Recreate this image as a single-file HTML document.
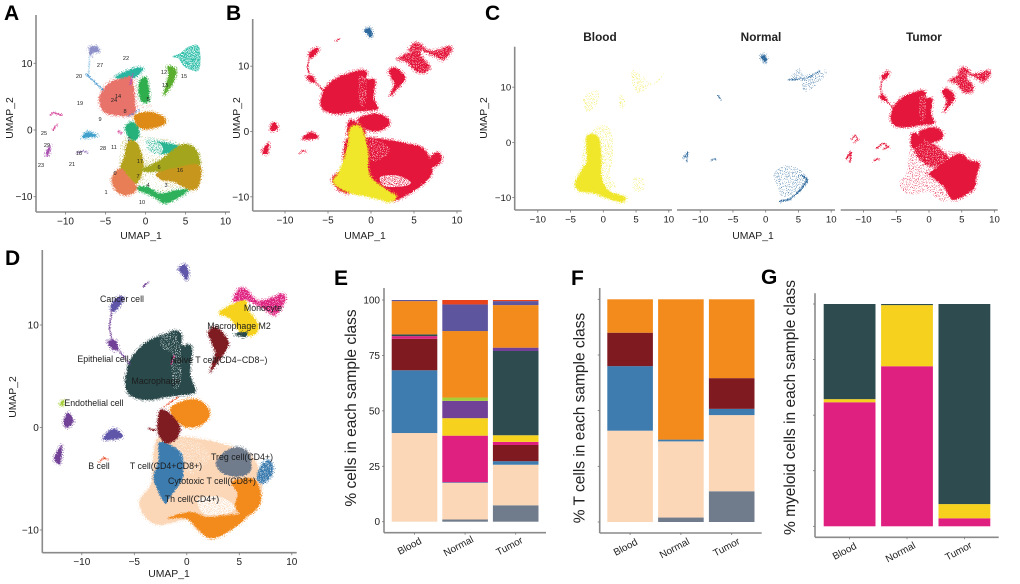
<!DOCTYPE html>
<html lang="en">
<head>
<meta charset="utf-8">
<title>UMAP clusters and cell composition</title>
<style>
html,body{margin:0;padding:0;background:#fff;}
svg{display:block;font-family:"Liberation Sans",Arial,sans-serif;}
.letter{font-size:21px;font-weight:700;fill:#000;}
.num{font-size:5.6px;fill:#222;text-anchor:middle;}
.cell{font-size:8.8px;fill:#1c1c1c;text-anchor:middle;}
</style>
</head>
<body>
<svg id="fig" xmlns="http://www.w3.org/2000/svg" width="1020" height="584" viewBox="0 0 1020 584">
<defs>
<filter id="fuzz" filterUnits="userSpaceOnUse" x="0" y="0" width="1020" height="584">
<feTurbulence type="fractalNoise" baseFrequency="1.1" numOctaves="2" seed="4" result="n"/>
<feDisplacementMap in="SourceGraphic" in2="n" scale="5" xChannelSelector="R" yChannelSelector="G"/>
</filter>
<filter id="dense" filterUnits="userSpaceOnUse" x="0" y="0" width="1020" height="584">
<feTurbulence type="fractalNoise" baseFrequency="1.1" numOctaves="1" seed="7" result="n"/>
<feColorMatrix in="n" type="matrix" values="0 0 0 0 0 0 0 0 0 0 0 0 0 0 0 9 0 0 0 -3.6" result="m"/>
<feComposite in="SourceGraphic" in2="m" operator="in"/>
</filter>
<filter id="sparse" filterUnits="userSpaceOnUse" x="0" y="0" width="1020" height="584">
<feTurbulence type="fractalNoise" baseFrequency="1.3" numOctaves="1" seed="11" result="n"/>
<feColorMatrix in="n" type="matrix" values="0 0 0 0 0 0 0 0 0 0 0 0 0 0 0 12 0 0 0 -7" result="m"/>
<feComposite in="SourceGraphic" in2="m" operator="in"/>
</filter>
</defs>

<g>
<text class="letter" x="4" y="20">A</text>
<text class="letter" x="226" y="20">B</text>
<text class="letter" x="485" y="20">C</text>
<text class="letter" x="5" y="265">D</text>
<text class="letter" x="334" y="285">E</text>
<text class="letter" x="571" y="285">F</text>
<text class="letter" x="761" y="284">G</text>
</g>

<g id="panelA"></g>
<g id="panelB"></g>
<g id="panelC"></g>
<g id="panelD"></g>
<g id="panelE"></g>
<g id="panelF"></g>
<g id="panelG"></g>

<g>
<text class="num" x="126" y="60">22</text>
<text class="num" x="100" y="67">27</text>
<text class="num" x="79" y="78">20</text>
<text class="num" x="80" y="105">19</text>
<text class="num" x="164" y="74">12</text>
<text class="num" x="165" y="87">13</text>
<text class="num" x="184" y="78">15</text>
<text class="num" x="118" y="98">14</text>
<text class="num" x="114" y="102">24</text>
<text class="num" x="125" y="113">8</text>
<text class="num" x="100" y="121">9</text>
<text class="num" x="148" y="101">5</text>
<text class="num" x="44" y="135">25</text>
<text class="num" x="47" y="147">29</text>
<text class="num" x="79" y="155">18</text>
<text class="num" x="103" y="150">28</text>
<text class="num" x="114" y="149">11</text>
<text class="num" x="129" y="141">2</text>
<text class="num" x="140" y="163">17</text>
<text class="num" x="159" y="169">6</text>
<text class="num" x="180" y="172">16</text>
<text class="num" x="115" y="175">0</text>
<text class="num" x="138" y="178">7</text>
<text class="num" x="148" y="187">4</text>
<text class="num" x="166" y="187">3</text>
<text class="num" x="106" y="194">1</text>
<text class="num" x="142" y="204">10</text>
<text class="num" x="41" y="167">23</text>
<text class="num" x="72" y="166">21</text>
</g>

<g>
<text class="cell" x="122" y="302">Cancer cell</text>
<text class="cell" x="263" y="311">Monocyte</text>
<text class="cell" x="239" y="329">Macrophage M2</text>
<text class="cell" x="219" y="363">Naive T cell(CD4−CD8−)</text>
<text class="cell" x="103" y="362">Epithelial cell</text>
<text class="cell" x="156" y="384">Macrophage</text>
<text class="cell" x="94" y="406">Endothelial cell</text>
<text class="cell" x="99" y="469">B cell</text>
<text class="cell" x="166" y="469">T cell(CD4+CD8+)</text>
<text class="cell" x="242" y="460">Treg cell(CD4+)</text>
<text class="cell" x="212" y="484">Cytotoxic T cell(CD8+)</text>
<text class="cell" x="192" y="502">Th cell(CD4+)</text>
</g>
</svg>

<script>
// ---------- stacked bar data (percent per cell type, bottom to top) ----------
const sampleClasses = ['Blood', 'Normal', 'Tumor'];
const cellTypeColors = ['#707C8C', '#FBD7B8', '#3E7BAF', '#7F1A20', '#DF2080', '#F6D21F', '#2E4C4F', '#714097', '#A6CE39', '#F28A1C', '#5E559F', '#E8431B'];
const allBlood = [0, 40, 28.3, 14.2, 1.2, 0, 0.8, 0, 0, 15, 0.5, 0];
const allNormal = [1, 16.5, 0.3, 0, 21, 7.9, 0, 7.8, 1.5, 30, 12, 2];
const allTumor = [7.4, 18.3, 1.6, 7.3, 1.4, 3, 38, 1.5, 0, 19.2, 1.8, 0.5];
const tBlood = [0, 41, 29, 15, 0, 0, 0, 0, 0, 15, 0, 0];
const tNormal = [2, 34.2, 0.8, 0, 0, 0, 0, 0, 0, 63, 0, 0];
const tTumor = [13.8, 34.2, 2.8, 13.8, 0, 0, 0, 0, 0, 35.4, 0, 0];
const myeloidBlood = [0, 0, 0, 0, 55.8, 1.4, 42.8, 0, 0, 0, 0, 0];
const myeloidNormal = [0, 0, 0, 0, 72, 27.5, 0.5, 0, 0, 0, 0, 0];
const myeloidTumor = [0, 0, 0, 0, 3.6, 6.4, 90, 0, 0, 0, 0, 0];
const percentTicks = [0, 25, 50, 75, 100];

// ---------- UMAP tick labels ----------
const umapXTicks = [-10, -5, 0, 5, 10];
const umapYTicks = [-10, 0, 10];

// ---------- UMAP cluster outlines, in UMAP_1 / UMAP_2 units ----------
const macrophageArea = [[-5.56,6.24],[-5.08,7.06],[-3.81,8.36],[-1.59,9.33],[-0.95,9.43],[-0.48,9],[-0.48,8.03],[0.48,7.87],[0.32,5.27],[0.79,3.48],[-0.63,3.15],[-1.9,3],[-3.81,2.67],[-5.4,3.15],[-5.87,4.29],[-5.71,5.43]];
const upperOrange = [[-1.59,1.69],[-0.63,2.5],[0.95,2.73],[2.06,1.85],[2.06,0.88],[0.95,0.07],[-0.48,0.23]];
const midRed = [[-2.8,0.07],[-2.54,1.69],[-1.59,1.37],[-0.63,0.07],[-0.95,-1.07],[-1.9,-1.56],[-2.6,-0.91]];
const peachBody = [[-4.44,-6.93],[-3.4,-5.4],[-2.9,-1.24],[-0.95,-0.91],[1.9,-1.24],[4.44,-1.89],[6.03,-2.54],[6.98,-4.49],[6.98,-6.76],[5.08,-9.04],[2.54,-10.67],[0.95,-10],[0,-9],[-2.54,-9.5],[-3.81,-8.9],[-4.44,-7.8]];
const blueColumn = [[-2.7,-1.56],[-1.9,-1.56],[-0.48,-2.54],[-0.32,-4.49],[-0.63,-5.46],[-1.59,-6.76],[-2.06,-7.41],[-2.86,-5.95],[-3.17,-4.81],[-2.7,-3.19]];
const orangeRight = [[4.29,-5.3],[6.35,-4.98],[7.05,-6.44],[6.83,-7.74],[5.56,-8.72],[4.6,-7.74],[4.83,-6.44]];
const orangeBottom = [[-1.9,-8.88],[0.32,-8.23],[1.9,-8.72],[3.81,-8.55],[5.71,-8.55],[4.44,-9.85],[2.38,-10.83],[1.11,-10],[0,-8.88]];
const tregGrey = [[2.86,-3.19],[3.81,-2.21],[5.08,-1.95],[6.03,-2.7],[6.03,-4.33],[4.76,-4.81],[3.49,-4.49],[2.86,-3.84]];
const blueRight = [[6.98,-3.84],[7.62,-3.19],[8.1,-3.51],[8.19,-4.49],[7.3,-5.46],[6.67,-4.98]];
const centreGap = [[1.11,-6.93],[3.17,-6.76],[4.6,-7.74],[3.81,-8.39],[1.59,-8.39]];
const upperGap = [[-0.95,-1.2],[1.2,-1.5],[2.2,-3],[0.5,-4.6],[-0.4,-3.4]];
const columnGap = [[-1.45,8.2],[-0.6,8],[-0.55,4.5],[-1.3,4]];
const macroWedge = [[2.06,9.33],[2.86,9.75],[3.97,8.2],[2.86,6.24],[2.22,5.43],[2.7,7.22],[2.38,8.2]];
const monocyteArea = [[4.44,12.3],[4.83,13.4],[5.56,13.56],[6.67,12.42],[7.94,12.6],[9.05,13.07],[9.37,12.42],[8.41,10.96],[7.3,11.6],[5.71,12.42]];
const m2Area = [[3.08,11.1],[4.13,11.93],[5.56,12.42],[5.87,11.45],[6.83,9.98],[6.35,9],[5.24,9.17],[4.13,10.63]];
const m2Dark = [[4.6,9.17],[5.7,9.33],[5.56,8.85],[4.76,9]];
const topIsland = [[-0.79,15.5],[-0.16,15.93],[0.16,15.02],[-0.06,14.37],[-0.48,15]];
const cancerHead = [[-7.24,11.93],[-6.5,12.75],[-6.03,12.68],[-6.35,11.93],[-6.98,11.28]];
const epithelialBlob = [[-7.56,8.36],[-6.83,8.52],[-6.51,7.71],[-6.98,7.54]];
const lowerIsland = [[-8,-1.07],[-6.98,-0.1],[-6.1,-0.85],[-6.98,-1.17]];
const leftIslandTop = [[-11.75,0.55],[-11.27,1.43],[-10.79,0.55],[-11.43,0]];
const leftIslandBottom = [[-12.63,-3.02],[-11.9,-1.72],[-12.06,-3.51]];
const endothelialIsland = [[-12.13,2.28],[-11.68,2.73],[-11.75,2.11]];
const epithelialStreak = [[-7.14,11.45],[-7.37,9.82],[-7.14,8.52],[-5.4,6.08]];
const tinyStreak = [[-4.13,13.79],[-3.65,14.2]];
const bCellArc = [[-8.35,-3.35],[-7.87,-2.93],[-7.52,-3.12]];
const strayRed = [[-3.65,-0.1],[-3,-0.26]];
const naiveStreak = [[-1.5,6.2],[-1.2,7]];
const sparkStreak = [[-2.2,2],[-0.8,3]];

// panel A cluster outlines
const aSalmon = [[-5.67,5.25],[-4.6,7],[-2.54,7.9],[-1.7,7.75],[-1.3,4.5],[-1.5,2.25],[-4,2.25],[-5.25,2.75],[-5.75,4]];
const aGreenColumn = [[-0.67,7.5],[0.17,7.75],[0.46,4.5],[-0.46,4.25],[-0.875,6]];
const aTealTop = [[-3.8,7.9],[-1.5,9.25],[-0.33,9.25],[-0.67,8.5],[-1.7,7.75]];
const aOrange = [[-1.3,2.25],[0.58,2.75],[2.25,2],[2.46,1],[1,0.25],[-0.67,0.25],[-1.3,1.25]];
const aMint = [[-2.54,0.5],[-1.7,1.25],[-0.875,0.25],[-0.875,-1.25],[-1.7,-1.5],[-2.4,-0.5]];
const aOliveLeft = [[-2.33,-2],[-1.5,-1.5],[-0.67,-2.75],[-0.25,-5.5],[-1.08,-8],[-2.1,-7],[-3.17,-6],[-2.67,-4]];
const aCoral = [[-4.2,-7.25],[-3.17,-5.75],[-2.1,-7],[-1.08,-8.5],[-1.5,-9.5],[-2.75,-9.75],[-3.75,-9]];
const aTealMid = [[0.17,-1.5],[1.83,-1.75],[4.33,-2.5],[2.67,-3.5],[0.58,-3.25]];
const aOliveGreen = [[-0.67,-6],[1.83,-4.5],[4.33,-2.25],[6,-2.5],[6.7,-4],[6.4,-5.5],[1.83,-6.25]];
const aOchre = [[1.42,-6.5],[3.5,-5.75],[6.7,-5.25],[6.7,-8.25],[5.6,-9],[3.5,-7.75],[1.83,-7.5]];
const aGreenBottom = [[-1.3,-8.75],[0.17,-8.5],[1.83,-9.5],[3.92,-9],[5.4,-9],[4.33,-10],[2.46,-11],[1,-10]];
const aLeafGreen = [[2.67,9.5],[3.7,9.25],[3.83,8.25],[3.3,6.75],[2.25,5.25],[2.87,8.25]];
const aTealRight = [[3.3,11],[4.33,11.5],[5.4,12.5],[6.7,12.5],[6.7,9],[5.2,9.25],[4.5,10],[4.1,10.75]];
const aGap = [[0.37,-6.5],[1.4,-7],[2.67,-8.25],[2.67,-9],[1,-8.75],[-0.25,-7.75]];
const aCancerHead = [[-7.1,12],[-6.9,12.5],[-6.08,12.5],[-5.75,11.75],[-6.5,11.6],[-6.83,11]];
const aCancerTail = [[-7,11],[-7.1,8.4]];
const aBlueStreak = [[-7.4,8.4],[-5.3,6]];
const aLeftPink = [[-11.9,2.25],[-11.5,2.6],[-10.46,2.25]];
const aLeftMagenta = [[-11.6,0],[-11.1,0.75]];
const aLeftPurple = [[-12.46,-3.6],[-11.9,-2.25],[-12.1,-3.75]];
const aLowerBlue = [[-7.96,-1.15],[-7.25,-0.25],[-6,-0.9],[-7.25,-1.15]];
const aStrayPink = [[-3.4,-0.15],[-3,-0.5]];
const aBottomArc = [[-8.6,-3.4],[-7.75,-3.1],[-7.25,-3.4]];
const aPinkStreak = [[-1.6,8.4],[-1.9,6.8]];

// panel B / C class-specific outlines
const bloodMain = [[-4.38,-7.4],[-3.6,-5.87],[-2.75,-2.3],[-2.44,0.5],[-1.28,0.87],[-0.7,-0.77],[-0.31,-3.3],[-0.31,-5.87],[0.27,-7.4],[1.8,-8.9],[3,-9.95],[2.2,-10.8],[1.05,-10.46],[-0.5,-9.95],[-2.44,-9.44],[-4,-8.4]];
const bloodDense = [[-4.34,-7.45],[-3.3,-5],[-2.55,-3.2],[-2.55,1],[-0.77,1],[-0.26,-2.6],[-0.26,-6.2],[0.77,-8.67],[3.3,-9.9],[3,-10.8],[1.5,-10.5],[-1.5,-9.2],[-3.5,-8.9]];
const bloodHalo = [[-3,-1],[-1,2.8],[1,2.5],[1.5,-2],[1,-6],[2,-8],[0,-8],[-3,-6]];
const bloodPatchRight = [[4.6,-6.5],[6,-6.5],[6.2,-8.5],[4.6,-8.8]];
const bloodPatchTop = [[4.4,13],[6,12],[7.8,10.5],[9.4,12.7],[8,11],[5.5,9],[4.6,10]];
const bloodPatchLeaf = [[2.5,8.6],[3.3,7.8],[3.2,6.2],[2.5,6.4]];
const bloodPatchMid = [[-3,8],[-1,9.5],[-0.8,7],[-2.6,5.5]];
const tumorDense = [[-0.1,-5.6],[2.7,-3.2],[4.7,-2],[6.2,-3.2],[7.7,-3.8],[7.2,-6.2],[6.7,-8.6],[3.7,-10.4],[2.2,-8],[-0.36,-5.6]];
const tumorMid = [[-2.2,-1],[0,0],[2,-1.5],[3,-3],[0.5,-4.5],[-1.5,-3]];
const normalArc = [[2.2,-10.67],[3.72,-10.3],[5.25,-8.67],[6.38,-6.85],[5.5,-5.94]];
const normalCloud = [[1.2,-5.6],[3,-4.1],[5.3,-5],[6.6,-6.9],[5.3,-8.7],[2.5,-9.9],[1.9,-8],[1.4,-6.9]];
const normalTop = [[3.47,11.33],[5,13.45],[6,12.24],[8.8,13.15],[9.3,12.55],[8.3,11],[6,9.2],[5.25,11.6],[4.2,11.33]];
const normalStreak = [[-7.3,8.5],[-6.8,7.6]];

// ---------- helpers ----------
const NS = 'http://www.w3.org/2000/svg';
function make(tag, attrs, parent) {
  const e = document.createElementNS(NS, tag);
  for (const k in attrs) e.setAttribute(k, attrs[k]);
  parent.appendChild(e);
  return e;
}
function smoothPath(pts) {
  const n = pts.length;
  const at = i => pts[(i + n) % n];
  let d = 'M' + pts[0][0].toFixed(1) + ' ' + pts[0][1].toFixed(1);
  for (let i = 0; i < n; i++) {
    const p0 = at(i - 1), p1 = at(i), p2 = at(i + 1), p3 = at(i + 2);
    d += 'C' + (p1[0] + (p2[0] - p0[0]) / 6).toFixed(1) + ' ' + (p1[1] + (p2[1] - p0[1]) / 6).toFixed(1) + ' ' +
      (p2[0] - (p3[0] - p1[0]) / 6).toFixed(1) + ' ' + (p2[1] - (p3[1] - p1[1]) / 6).toFixed(1) + ' ' +
      p2[0].toFixed(1) + ' ' + p2[1].toFixed(1);
  }
  return d + 'Z';
}
function tickText(g, x, y, str, anchor, size) {
  const t = make('text', {x: x, y: y, 'text-anchor': anchor, 'font-size': size, fill: '#222'}, g);
  
  
  t.textContent = str;
  return t;
}
function titleText(g, x, y, str, size, rot, weight) {
  const attrs = {x: x, y: y, 'text-anchor': 'middle', 'font-size': size, fill: '#222'};
  if (rot) attrs.transform = 'rotate(' + rot + ' ' + x + ' ' + y + ')';
  if (weight) attrs['font-weight'] = weight;
  const t = make('text', attrs, g);
  
  
  t.textContent = str;
  return t;
}
function axisLine(g, x1, y1, x2, y2) {
  const l = make('line', {x1: x1, y1: y1, x2: x2, y2: y2, stroke: '#8a8a8a', 'stroke-width': 1.6}, g);
  
  
}
function tickMark(g, x1, y1, x2, y2) {
  const l = make('line', {x1: x1, y1: y1, x2: x2, y2: y2, stroke: '#777', 'stroke-width': 0.8}, g);
  
  
}
function formatTick(v) {
  return v < 0 ? '\u2212' + Math.abs(v) : String(v);
}

// a layout maps data to pixels: x(v) and y(v) are the axis functions
function makeScale(x0, kx, y0, ky) {
  return {x: v => x0 + kx * v, y: v => y0 - ky * v};
}
function umapLayer(parent, scale, mode) {
  let halo = null;
  if (mode === 'fuzz') {
    halo = make('g', {filter: 'url(#sparse)'}, parent);
    
    
  }
  const filt = mode === 'dense' ? 'url(#dense)' : mode === 'sparse' ? 'url(#sparse)' : 'url(#fuzz)';
  const g = make('g', {filter: filt}, parent);
  
  
  return {
    area(outline, color) {
      const d = smoothPath(outline.map(q => [scale.x(q[0]), scale.y(q[1])]));
      if (halo) {
        const h = make('path', {d: d, fill: color, stroke: color, 'stroke-width': 4.5, 'stroke-linejoin': 'round'}, halo);
        
        
      }
      const p = make('path', {d: d, fill: color}, g);
      
      
    },
    streak(points, color, width) {
      const d = points.map((q, i) => (i ? 'L' : 'M') + scale.x(q[0]).toFixed(1) + ' ' + scale.y(q[1]).toFixed(1)).join('');
      const p = make('path', {d: d, fill: 'none', stroke: color, 'stroke-width': width, 'stroke-linecap': 'round', 'stroke-linejoin': 'round'}, g);
      
      
    }
  };
}
function umapAxes(g, scale, box, xTitle, yTitle, tickSize) {
  axisLine(g, box.left, box.top, box.left, box.bottom);
  axisLine(g, box.left, box.bottom, box.right, box.bottom);
  umapXTicks.forEach(v => {
    tickMark(g, scale.x(v), box.bottom, scale.x(v), box.bottom + 2.5);
    tickText(g, scale.x(v), box.bottom + 12.5, formatTick(v), 'middle', tickSize);
  });
  if (box.yTicks) {
    umapYTicks.forEach(v => {
      tickMark(g, box.left - 2.5, scale.y(v), box.left, scale.y(v));
      tickText(g, box.left - 3.5, scale.y(v) + 3.5, formatTick(v), 'end', tickSize);
    });
  }
  if (xTitle) titleText(g, xTitle.x, xTitle.y, 'UMAP_1', 10.4);
  if (yTitle) titleText(g, yTitle.x, yTitle.y, 'UMAP_2', 10.4, -90);
}

// ---------- Panel A ----------
(function () {
  const g = document.getElementById('panelA');
  const s = makeScale(145.5, 8, 130, 6.67);
  const under = umapLayer(g, s, 'sparse');
  under.area(macrophageArea, '#E9A39A');
  under.area(peachBody, '#B7B04E');
  const cloud = umapLayer(g, s, 'fuzz');
  cloud.area(aGreenColumn, '#2FAE4E');
  cloud.area(aTealTop, '#2CB5A0');
  cloud.area(aSalmon, '#E8736A');
  cloud.area(aOrange, '#DE8A12');
  cloud.area(aTealMid, '#2CB592');
  cloud.area(aOliveLeft, '#B5A21F');
  cloud.area(aMint, '#27B07A');
  cloud.area(aOliveGreen, '#A3A51C');
  cloud.area(aOchre, '#C7961A');
  cloud.area(aGreenBottom, '#2FB15A');
  cloud.area(aCoral, '#E77E56');
  cloud.area(aLeafGreen, '#5AAE2E');
  cloud.area(aCancerHead, '#8C8FC8');
  cloud.area(aLowerBlue, '#3FA0CC');
  cloud.area(aLeftPurple, '#A84FB0');
  const right = umapLayer(g, s, 'dense');
  right.area(aTealRight, '#2EBFAA');
  const thin = umapLayer(g, s, 'fuzz');
  thin.streak(aCancerTail, '#8FC4E4', 1);
  thin.streak(aBlueStreak, '#4D9BD0', 1.4);
  thin.streak(aLeftPink, '#D84F9F', 1.6);
  thin.streak(aLeftMagenta, '#D84F9F', 1.6);
  thin.streak(aStrayPink, '#D84F9F', 1.6);
  thin.streak(aBottomArc, '#8A68B8', 1.2);
  thin.streak(aPinkStreak, '#C04FB0', 1.2);
  thin.streak(sparkStreak, '#6B8ED0', 1);
  const gaps = umapLayer(g, s, 'dense');
  gaps.area(aGap, '#ffffff');
  gaps.area(upperGap, '#ffffff');
  umapAxes(g, s, {left: 36, top: 15, bottom: 212, right: 230, yTicks: true}, {x: 141, y: 239}, {x: 13, y: 118}, 10);
})();

// ---------- Panel B ----------
(function () {
  const g = document.getElementById('panelB');
  const s = makeScale(371, 8.6, 131.5, 6.53);
  const red = '#E5173A';
  const base = umapLayer(g, s, 'fuzz');
  [macrophageArea, upperOrange, midRed, peachBody, blueRight, macroWedge, monocyteArea, m2Area, cancerHead,
    epithelialBlob, lowerIsland, leftIslandTop, leftIslandBottom].forEach(a => base.area(a, red));
  base.area(topIsland, '#2F6A9E');
  base.streak(epithelialStreak, red, 1.2);
  base.streak(bCellArc, red, 1.2);
  base.streak(tinyStreak, red, 1);
  const gaps = umapLayer(g, s, 'dense');
  gaps.area(centreGap, '#ffffff');
  const light = umapLayer(g, s, 'sparse');
  light.area(upperGap, '#ffffff');
  light.area(columnGap, '#ffffff');
  light.area(monocyteArea, '#ffffff');
  light.area(m2Area, '#ffffff');
  const y = umapLayer(g, s, 'fuzz');
  y.area(bloodMain, '#F0E62A');
  umapAxes(g, s, {left: 252.7, top: 19, bottom: 211, right: 461.7, yTicks: true}, {x: 365, y: 239}, {x: 240, y: 118}, 10);
})();

// ---------- Panel C ----------
(function () {
  const g = document.getElementById('panelC');
  const top = 46.7, bottom = 210;
  const ya = 142.4, ky = 5.52, kx = 6.55;
  const blood = makeScale(603.3, kx, ya, ky);
  const normal = makeScale(765.7, kx, ya, ky);
  const tumor = makeScale(929, kx, ya, ky);

  const yellow = '#F0E62A';
  const by = umapLayer(g, blood, 'sparse');
  [bloodHalo, bloodPatchRight, bloodPatchTop, bloodPatchLeaf, bloodPatchMid].forEach(a => by.area(a, yellow));
  const bm = umapLayer(g, blood, 'fuzz');
  bm.area(bloodDense, yellow);

  const blue = '#2F6A9E';
  const ns = umapLayer(g, normal, 'sparse');
  ns.area(normalCloud, blue);
  ns.area(normalTop, blue);
  const nm = umapLayer(g, normal, 'fuzz');
  nm.area(topIsland, blue);
  nm.streak(normalArc, blue, 1.6);
  nm.streak(normalStreak, blue, 1);
  nm.streak([[8.2,12.9],[6.4,11.6],[3.5,11.3]], blue, 1);
  nm.streak(leftIslandBottom, blue, 1);
  nm.streak(bCellArc, blue, 0.8);

  const red = '#E5173A';
  const ts = umapLayer(g, tumor, 'sparse');
  ts.area(peachBody, red);
  const tm = umapLayer(g, tumor, 'fuzz');
  [macrophageArea, upperOrange, midRed, tumorDense, tumorMid, macroWedge, monocyteArea, m2Area, cancerHead, epithelialBlob].forEach(a => tm.area(a, red));
  tm.streak(epithelialStreak, red, 1);
  tm.streak(bCellArc, red, 1);
  tm.streak(leftIslandBottom, red, 1.6);
  tm.streak(lowerIsland, red, 1.2);
  tm.streak(leftIslandTop, red, 1);
  const tg = umapLayer(g, tumor, 'sparse');
  tg.area(monocyteArea, '#ffffff');
  tg.area(m2Area, '#ffffff');
  tg.area(tumorMid, '#ffffff');
  tg.area(columnGap, '#ffffff');

  umapAxes(g, blood, {left: 514.7, top: top, bottom: bottom, right: 672, yTicks: true}, null, {x: 487, y: 118}, 9.6);
  umapAxes(g, normal, {left: 677, top: bottom, bottom: bottom, right: 835, yTicks: false}, {x: 753, y: 239}, null, 9.6);
  umapAxes(g, tumor, {left: 840.7, top: bottom, bottom: bottom, right: 997.7, yTicks: false}, null, null, 9.6);
  titleText(g, 600, 41, 'Blood', 11.8, 0, 700);
  titleText(g, 761, 41, 'Normal', 11.8, 0, 700);
  titleText(g, 924, 41, 'Tumor', 11.8, 0, 700);
})();

// ---------- Panel D ----------
(function () {
  const g = document.getElementById('panelD');
  const s = makeScale(186.8, 10.5, 427.5, 10.25);
  const layer = umapLayer(g, s, 'fuzz');
  layer.area(peachBody, '#FBD7B8');
  layer.area(macrophageArea, '#2C4A4C');
  layer.area(orangeRight, '#F28A1C');
  layer.area(orangeBottom, '#F28A1C');
  layer.area(blueColumn, '#3E7BAF');
  layer.area(blueRight, '#3E7BAF');
  layer.area(tregGrey, '#707C8C');
  layer.area(upperOrange, '#F28A1C');
  layer.area(midRed, '#7F1A20');
  layer.area(macroWedge, '#7F1A20');
  layer.area(monocyteArea, '#DF2080');
  layer.area(m2Area, '#F6D21F');
  layer.area(m2Dark, '#2C4A4C');
  layer.area(topIsland, '#5E55A9');
  layer.area(cancerHead, '#5E55A9');
  layer.area(epithelialBlob, '#714097');
  layer.area(lowerIsland, '#5E55A9');
  layer.area(leftIslandTop, '#714097');
  layer.area(leftIslandBottom, '#714097');
  layer.area(endothelialIsland, '#A6CE39');
  layer.streak(epithelialStreak, '#714097', 1.2);
  layer.streak(tinyStreak, '#714097', 1.4);
  layer.streak(bCellArc, '#E8431B', 1.2);
  layer.streak(strayRed, '#7F1A20', 1.6);
  layer.streak(naiveStreak, '#DF2080', 1.2);
  layer.streak(sparkStreak, '#E8431B', 1);
  const gaps = umapLayer(g, s, 'dense');
  gaps.area(centreGap, '#ffffff');
  const specks = umapLayer(g, s, 'sparse');
  specks.area(upperGap, '#ffffff');
  specks.area(monocyteArea, '#ffffff');
  specks.area(blueRight, '#ffffff');
  specks.area(columnGap, '#ffffff');
  specks.area([[-2.4,9],[-1,9.2],[-1,7.4],[-2.4,7.8]], '#ffffff');
  umapAxes(g, s, {left: 42.3, top: 250, bottom: 552.7, right: 296.7, yTicks: true}, {x: 169, y: 577}, {x: 16, y: 397}, 10);
})();

// ---------- Panels E, F, G ----------
function stackedBars(host, box, columns, yTitle, showTickLabels, catLabels) {
  const yOf = v => box.yZero - (box.yZero - box.yHundred) * v / 100;
  const xOf = i => box.firstBar + i * box.barStep;
  columns.forEach((values, c) => {
    let running = 0;
    values.forEach((v, t) => {
      if (v <= 0) return;
      const r = make('rect', {
        x: xOf(c), y: yOf(running + v), width: box.barWidth,
        height: yOf(running) - yOf(running + v), fill: cellTypeColors[t]
      }, host);
      
      
      running += v;
    });
  });
  axisLine(host, box.left, box.top, box.left, box.bottom);
  axisLine(host, box.left, box.bottom, box.right, box.bottom);
  percentTicks.forEach(v => {
    tickMark(host, box.left - 2, yOf(v), box.left, yOf(v));
    if (showTickLabels) tickText(host, box.left - 4, yOf(v) + 3.5, String(v), 'end', 10);
  });
  sampleClasses.forEach((name, i) => {
    const cx = xOf(i) + box.barWidth / 2;
    tickMark(host, cx, box.bottom, cx, box.bottom + 2);
    titleText(host, catLabels[i][0], catLabels[i][1], name, 10, -28);
  });
  titleText(host, yTitle.x, yTitle.y, yTitle.text, 15.5, -90);
}
stackedBars(document.getElementById('panelE'),
  {left: 384, top: 288, bottom: 532.7, right: 546, yZero: 521.7, yHundred: 300, firstBar: 391.7, barStep: 50.6, barWidth: 45.6},
  [allBlood, allNormal, allTumor],
  {x: 356, y: 408, text: '% cells in each sample class'}, true, [[411, 549], [460, 549], [511, 549]]);
stackedBars(document.getElementById('panelF'),
  {left: 599.7, top: 288, bottom: 533, right: 761.7, yZero: 522, yHundred: 299.3, firstBar: 607.3, barStep: 50.8, barWidth: 45.6},
  [tBlood, tNormal, tTumor],
  {x: 584.5, y: 418, text: '% T cells in each sample class'}, false, [[627, 550], [676, 551], [728, 550]]);
stackedBars(document.getElementById('panelG'),
  {left: 815, top: 293.3, bottom: 537.3, right: 998.7, yZero: 526.3, yHundred: 304, firstBar: 823.7, barStep: 57.4, barWidth: 51.8},
  [myeloidBlood, myeloidNormal, myeloidTumor],
  {x: 795, y: 407.5, text: '% myeloid cells in each sample class'}, false, [[846, 554], [902, 555], [960, 554]]);
</script>
</body>
</html>
